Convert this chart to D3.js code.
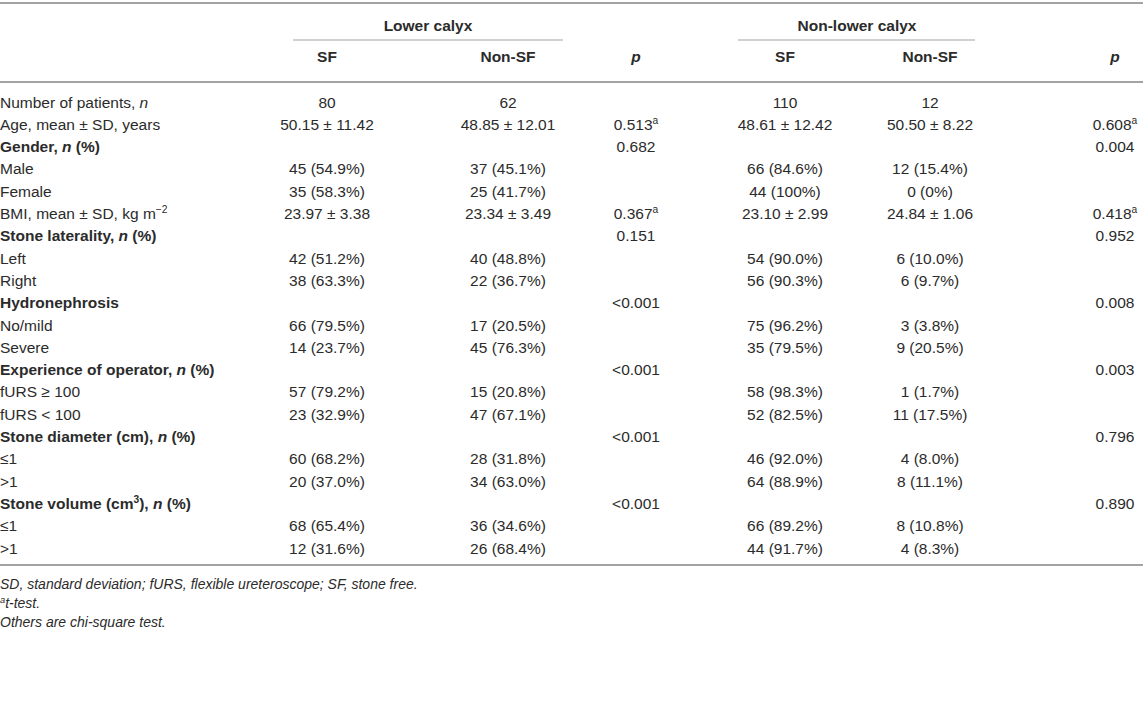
<!DOCTYPE html>
<html>
<head>
<meta charset="utf-8">
<script src="https://cdn.jsdelivr.net/npm/d3@7"></script>
<style>
  body { margin: 0; background: #fff; }
  svg text { font-family: "Liberation Sans", Arial, sans-serif; fill: #2b2b2b; }
</style>
</head>
<body>
<svg id="chart"></svg>
<script>
// rows of the table (*x* = italic, ^{x} = superscript)
const rowLabels = [
    "Number of patients, *n*",
    "Age, mean ± SD, years",
    "Gender, *n* (%)",
    "Male",
    "Female",
    "BMI, mean ± SD, kg m^{−2}",
    "Stone laterality, *n* (%)",
    "Left",
    "Right",
    "Hydronephrosis",
    "No/mild",
    "Severe",
    "Experience of operator, *n* (%)",
    "fURS ≥ 100",
    "fURS < 100",
    "Stone diameter (cm), *n* (%)",
    "≤1",
    ">1",
    "Stone volume (cm^{3}), *n* (%)",
    "≤1",
    ">1"
];
const boldRows = [2, 6, 9, 12, 15, 18];

const lowerSF = ["80", "50.15 ± 11.42", "", "45 (54.9%)", "35 (58.3%)", "23.97 ± 3.38", "", "42 (51.2%)", "38 (63.3%)", "", "66 (79.5%)", "14 (23.7%)", "", "57 (79.2%)", "23 (32.9%)", "", "60 (68.2%)", "20 (37.0%)", "", "68 (65.4%)", "12 (31.6%)"];
const lowerNonSF = ["62", "48.85 ± 12.01", "", "37 (45.1%)", "25 (41.7%)", "23.34 ± 3.49", "", "40 (48.8%)", "22 (36.7%)", "", "17 (20.5%)", "45 (76.3%)", "", "15 (20.8%)", "47 (67.1%)", "", "28 (31.8%)", "34 (63.0%)", "", "36 (34.6%)", "26 (68.4%)"];
const lowerP = ["", "0.513^{a}", "0.682", "", "", "0.367^{a}", "0.151", "", "", "<0.001", "", "", "<0.001", "", "", "<0.001", "", "", "<0.001", "", ""];
const nonLowerSF = ["110", "48.61 ± 12.42", "", "66 (84.6%)", "44 (100%)", "23.10 ± 2.99", "", "54 (90.0%)", "56 (90.3%)", "", "75 (96.2%)", "35 (79.5%)", "", "58 (98.3%)", "52 (82.5%)", "", "46 (92.0%)", "64 (88.9%)", "", "66 (89.2%)", "44 (91.7%)"];
const nonLowerNonSF = ["12", "50.50 ± 8.22", "", "12 (15.4%)", "0 (0%)", "24.84 ± 1.06", "", "6 (10.0%)", "6 (9.7%)", "", "3 (3.8%)", "9 (20.5%)", "", "1 (1.7%)", "11 (17.5%)", "", "4 (8.0%)", "8 (11.1%)", "", "8 (10.8%)", "4 (8.3%)"];
const nonLowerP = ["", "0.608^{a}", "0.004", "", "", "0.418^{a}", "0.952", "", "", "0.008", "", "", "0.003", "", "", "0.796", "", "", "0.890", "", ""];

const groups = ["Lower calyx", "Non-lower calyx"];
const columnHeads = ["SF", "Non-SF", "*p*", "SF", "Non-SF", "*p*"];
const footnotes = [
    "SD, standard deviation; fURS, flexible ureteroscope; SF, stone free.",
    "^{a}t-test.",
    "Others are chi-square test."
];

const columns = [lowerSF, lowerNonSF, lowerP, nonLowerSF, nonLowerNonSF, nonLowerP];

// 配置
const width = 1143, height = 720;
const fontSize = 15.5;
const ruleColor = "#a3a3a3";

const svg = d3.select("#chart")
    .attr("width", width)
    .attr("height", height);

// 比例尺
const x = d3.scaleOrdinal()
    .domain(d3.range(columns.length))
    .range([327, 508, 636, 785, 930, 1115]);

const y = d3.scalePoint()
    .domain(d3.range(rowLabels.length))
    .range([107.5, 553.5]);

// write text with *italic* and ^{superscript} pieces
function rich(sel, str) {
    const parts = str.split(/(\*[^*]+\*|\^\{[^}]*\})/).filter(function (s) { return s !== ""; });
    let raised = false;
    parts.forEach(function (p) {
        const t = sel.append("tspan");
        if (p[0] === "^") {
            t.text(p.slice(2, -1)).attr("font-size", "0.66em").attr("dy", "-0.55em");
            raised = true;
            return;
        }
        if (p[0] === "*") {
            t.text(p.slice(1, -1)).attr("font-style", "italic");
        } else {
            t.text(p);
        }
        if (raised) { t.attr("dy", "0.363em"); raised = false; }
    });
}

// 横线
function rule(x1, x2, yy, w) {
    svg.append("line")
        .attr("x1", x1).attr("x2", x2)
        .attr("y1", yy).attr("y2", yy)
        .attr("stroke", ruleColor)
        .attr("stroke-width", w);
}
rule(0, width, 3, 2);
rule(0, width, 82, 2);
rule(0, width, 565, 2);
rule(293, 563, 40, 1.2);
rule(738, 975, 40, 1.2);

// 表头
svg.selectAll(".group")
    .data(groups)
    .enter().append("text")
    .attr("class", "group")
    .attr("x", function (d, i) { return i === 0 ? 428 : 857; })
    .attr("y", 30.5)
    .attr("text-anchor", "middle")
    .attr("font-weight", "bold")
    .attr("font-size", fontSize)
    .text(function (d) { return d; });

svg.selectAll(".head")
    .data(columnHeads)
    .enter().append("text")
    .attr("class", "head")
    .attr("x", function (d, i) { return x(i); })
    .attr("y", 62)
    .attr("text-anchor", "middle")
    .attr("font-weight", "bold")
    .attr("font-size", fontSize)
    .each(function (d) { rich(d3.select(this), d); });

// 行标签
svg.selectAll(".label")
    .data(rowLabels)
    .enter().append("text")
    .attr("class", "label")
    .attr("x", 0)
    .attr("y", function (d, i) { return y(i); })
    .attr("font-size", fontSize)
    .attr("font-weight", function (d, i) { return boldRows.indexOf(i) >= 0 ? "bold" : null; })
    .each(function (d) { rich(d3.select(this), d); });

// 单元格
columns.forEach(function (col, c) {
    svg.selectAll(".cell" + c)
        .data(col)
        .enter().append("text")
        .attr("class", "cell" + c)
        .attr("x", x(c))
        .attr("y", function (d, i) { return y(i); })
        .attr("text-anchor", "middle")
        .attr("font-size", fontSize)
        .each(function (d) { rich(d3.select(this), d); });
});

// 脚注
svg.selectAll(".foot")
    .data(footnotes)
    .enter().append("text")
    .attr("class", "foot")
    .attr("x", 0)
    .attr("y", function (d, i) { return 589 + i * 19; })
    .attr("font-size", 14)
    .attr("font-style", "italic")
    .each(function (d) { rich(d3.select(this), d); });
</script>
</body>
</html>
